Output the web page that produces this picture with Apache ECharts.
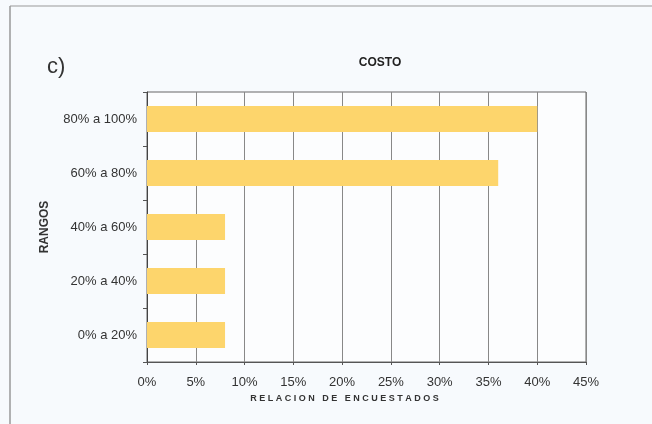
<!DOCTYPE html>
<html>
<head>
<meta charset="utf-8">
<script src="https://cdn.jsdelivr.net/npm/echarts@6/dist/echarts.min.js"></script>
<style>
html,body{margin:0;padding:0;background:#f7fafd;}
#chart{width:652px;height:424px;}
</style>
</head>
<body>
<div id="chart"></div>
<script>
var categories = ['0% a 20%', '20% a 40%', '40% a 60%', '60% a 80%', '80% a 100%'];
var values = [8, 8, 8, 36, 40];
var xTicks = { min: 0, max: 45, interval: 5 };

var chart = echarts.init(document.getElementById('chart'), null, {renderer: 'canvas'});
var font = 'Liberation Sans, Arial, sans-serif';
chart.setOption({
  backgroundColor: '#f7fafd',
  animation: false,
  title: {
    text: 'COSTO',
    left: 375, top: 52,
    textAlign: 'center',
    textStyle: {fontFamily: font, fontSize: 12, fontWeight: 'bold', color: '#222'}
  },
  graphic: [
    {type: 'line', shape: {x1: 10, y1: 6, x2: 652, y2: 6}, style: {stroke: '#999', lineWidth: 1}},
    {type: 'line', shape: {x1: 10, y1: 6, x2: 10, y2: 424}, style: {stroke: '#999', lineWidth: 1.5}},
    {type: 'text', left: 47, top: 56, style: {text: 'c)', font: '22px ' + font, fill: '#333'}}
  ],
  grid: {left: 147, right: 66, top: 92, bottom: 62, show: true, borderColor: '#666', borderWidth: 1, backgroundColor: '#fcfdfe'},
  xAxis: {
    type: 'value',
    min: xTicks.min, max: xTicks.max, interval: xTicks.interval,
    axisLine: {show: true, lineStyle: {color: '#555'}},
    axisTick: {show: true, length: 3, lineStyle: {color: '#555'}},
    axisLabel: {formatter: '{value}%', margin: 14, fontFamily: font, fontSize: 13, color: '#333'},
    splitLine: {show: true, lineStyle: {color: '#888', width: 1}},
    name: 'R E L A C I O N   D E   E N C U E S T A D O S',
    nameLocation: 'middle', nameGap: 31,
    nameTextStyle: {fontFamily: font, fontSize: 9, fontWeight: 'bold', color: '#333', padding: [0, 44, 0, 0]}
  },
  yAxis: {
    type: 'category',
    data: categories,
    axisLine: {show: true, lineStyle: {color: '#444'}},
    axisTick: {show: true, length: 4, lineStyle: {color: '#555'}},
    axisLabel: {margin: 10, fontFamily: font, fontSize: 13, color: '#333'},
    splitLine: {show: false},
    name: 'RANGOS',
    nameLocation: 'middle', nameGap: 96, nameRotate: 90,
    nameTextStyle: {fontFamily: font, fontSize: 12, fontWeight: 'bold', color: '#333'}
  },
  series: [{
    type: 'bar',
    data: values,
    barWidth: 26,
    itemStyle: {color: '#fdd56c'}
  }]
});
</script>
</body>
</html>
